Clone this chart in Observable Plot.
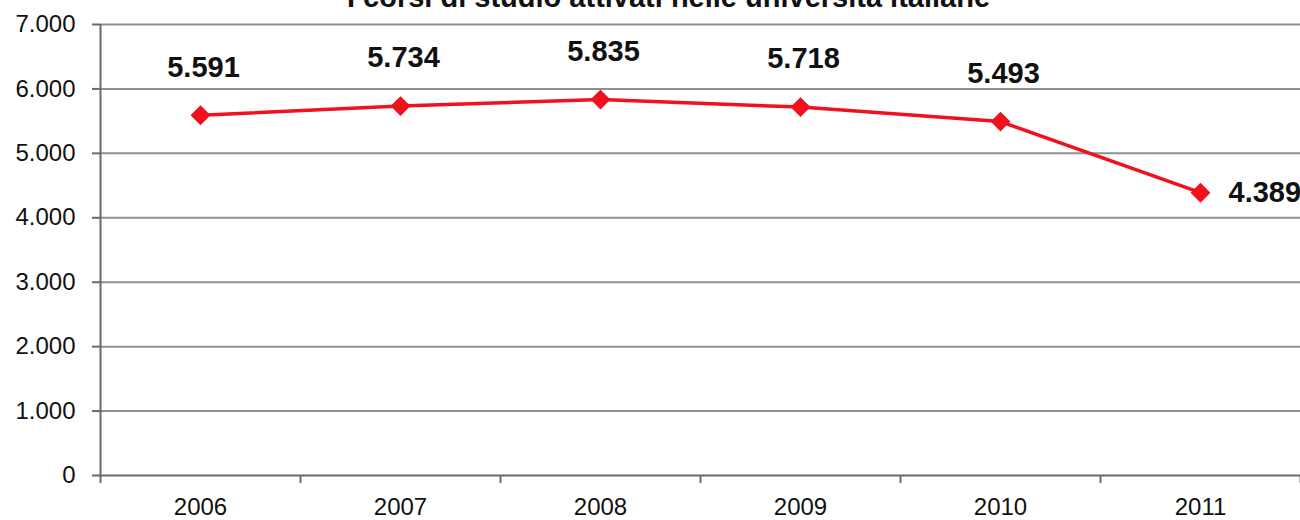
<!DOCTYPE html>
<html>
<head>
<meta charset="utf-8">
<script src="https://cdn.jsdelivr.net/npm/d3@7"></script>
<script src="https://cdn.jsdelivr.net/npm/@observablehq/plot@0.6"></script>
<style>
  html, body { margin: 0; padding: 0; background: #fff; }
  #chart svg { display: block; overflow: visible; font-family: "Liberation Sans", Arial, sans-serif; }
</style>
</head>
<body>
<div id="chart"></div>
<script>
const title = "I corsi di studio attivati nelle università italiane";
const years = [2006, 2007, 2008, 2009, 2010, 2011];
const corsi = [5591, 5734, 5835, 5718, 5493, 4389];
const yTicks = [0, 1000, 2000, 3000, 4000, 5000, 6000, 7000];

const it = d3.formatLocale({decimal: ",", thousands: ".", grouping: [3], currency: ["", " €"]});
const fmt = it.format(",d");

const data = years.map((y, i) => ({year: y, value: corsi[i]}));
const bounds = d3.range(years[0] - 0.5, years[years.length - 1] + 1, 1);
const red = "#f0101e";

const chart = Plot.plot({
  width: 1300,
  height: 520,
  marginLeft: 100,
  marginRight: 0,
  marginTop: 24,
  marginBottom: 45,
  style: {fontFamily: "\"Liberation Sans\", Arial, sans-serif", background: "#fff", overflow: "visible"},
  x: {type: "linear", domain: [years[0] - 0.5, years[years.length - 1] + 0.5]},
  y: {domain: [0, 7000]},
  marks: [
    Plot.gridY(yTicks.filter(d => d > 0), {stroke: "#8f8f8f", strokeOpacity: 1, strokeWidth: 2}),
    Plot.ruleY([0], {stroke: "#6a6a6a", strokeWidth: 2}),
    Plot.ruleX([years[0] - 0.5], {stroke: "#6a6a6a", strokeWidth: 2}),
    Plot.axisY(yTicks, {tickSize: 8, tickPadding: 17, tickFormat: fmt, fontSize: 24, stroke: "#6a6a6a", strokeWidth: 2, fill: "#111", label: null}),
    Plot.axisX(bounds, {tickSize: 8, tickFormat: () => "", stroke: "#6a6a6a", strokeWidth: 2, label: null}),
    Plot.axisX(years, {tickSize: 0, tickPadding: 22, tickFormat: d => String(d), fontSize: 24, fill: "#111", label: null}),
    Plot.line(data, {x: "year", y: "value", stroke: red, strokeWidth: 3.5}),
    Plot.dot(data, {x: "year", y: "value", symbol: "diamond2", r: 8, fill: red, stroke: red}),
    Plot.text(data.slice(0, -1), {x: "year", y: "value", text: d => fmt(d.value), dy: -48, dx: 3, fontSize: 29, fontWeight: "bold", fill: "#111"}),
    Plot.text(data.slice(-1), {x: "year", y: "value", text: d => fmt(d.value), dx: 28, textAnchor: "start", fontSize: 29, fontWeight: "bold", fill: "#111"}),
    Plot.text([title], {frameAnchor: "top", dx: -32, dy: -38, fontSize: 29, fontWeight: "bold", fill: "#111"})
  ]
});
document.getElementById("chart").appendChild(chart);
</script>
</body>
</html>
